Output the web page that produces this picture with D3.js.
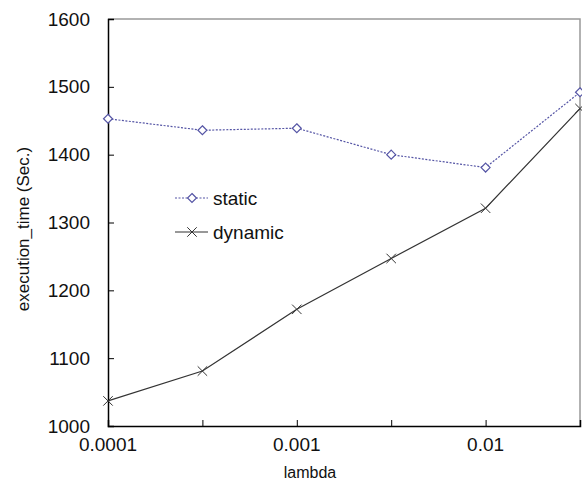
<!DOCTYPE html>
<html>
<head>
<meta charset="utf-8">
<script src="https://cdn.jsdelivr.net/npm/d3@7"></script>
<style>
  body { margin: 0; background: #fff; }
  text { font-family: "Liberation Sans", Arial, sans-serif; fill: #111; }
</style>
</head>
<body>
<div id="chart"></div>
<script>
// lambda categories, evenly spaced on the axis; only every other one is labelled
let lambdas = ['0.0001', '0.0003', '0.001', '0.003', '0.01', '0.03'];
let shownTicks = ['0.0001', '0.001', '0.01'];

// execution time in seconds
let staticTime = [1453, 1436, 1439, 1400, 1381, 1492];
let dynamicTime = [1037, 1081, 1172, 1247, 1321, 1468];

let yTicks = [1000, 1100, 1200, 1300, 1400, 1500, 1600];

let width = 582, height = 483;
let margin = {top: 19, right: 2, bottom: 57, left: 108};

let svg = d3.select('#chart')
            .append('svg')
            .attr('width', width)
            .attr('height', height);

let x = d3.scalePoint()
          .domain(lambdas)
          .range([margin.left, width - margin.right]);

let y = d3.scaleLinear()
          .domain([1000, 1600])
          .range([height - margin.bottom, margin.top]);

// frame: grey top and right edges
svg.append('path')
   .attr('d', 'M' + margin.left + ',' + y(1600) + 'H' + x('0.03') + 'V' + y(1000))
   .attr('fill', 'none')
   .attr('stroke', '#999')
   .attr('stroke-width', 1.5);

// y axis, ticks point into the plot
let yAxis = svg.append('g')
               .attr('transform', 'translate(' + margin.left + ',0)')
               .call(d3.axisRight(y).tickValues(yTicks).tickSize(6).tickFormat(''));
yAxis.select('.domain').attr('stroke', '#000').attr('stroke-width', 1.5);
yAxis.selectAll('.tick line').attr('stroke', '#000');

svg.append('g').selectAll('text')
   .data(yTicks)
   .join('text')
   .attr('x', margin.left - 18)
   .attr('y', d => y(d))
   .attr('dy', '0.35em')
   .attr('text-anchor', 'end')
   .style('font-size', '19px')
   .text(d => d);

// x axis, ticks point up
let xAxis = svg.append('g')
               .attr('transform', 'translate(0,' + y(1000) + ')')
               .call(d3.axisTop(x).tickSize(6).tickFormat(''));
xAxis.select('.domain').attr('stroke', '#000').attr('stroke-width', 1.5);
xAxis.selectAll('.tick line').attr('stroke', '#000');

svg.append('g').selectAll('text')
   .data(shownTicks)
   .join('text')
   .attr('x', d => x(d))
   .attr('y', y(1000) + 25)
   .attr('text-anchor', 'middle')
   .style('font-size', '19px')
   .text(d => d);

// axis titles
svg.append('text')
   .attr('x', 310)
   .attr('y', 478)
   .attr('text-anchor', 'middle')
   .style('font-size', '16px')
   .text('lambda');

svg.append('text')
   .attr('transform', 'translate(29,229) rotate(-90)')
   .attr('text-anchor', 'middle')
   .style('font-size', '17px')
   .text('execution_time (Sec.)');

let line = d3.line()
             .x((d, i) => x(lambdas[i]))
             .y(d => y(d));

let staticColor = '#5555a5', dynamicColor = '#333';

// square-ish diamond like the original marker
let squareDiamond = {
  draw(ctx, size) {
    let r = Math.sqrt(size) / 2;
    ctx.moveTo(0, -r);
    ctx.lineTo(r, 0);
    ctx.lineTo(0, r);
    ctx.lineTo(-r, 0);
    ctx.closePath();
  }
};

// static series, dotted blue with open diamonds
svg.append('path')
   .attr('d', line(staticTime))
   .attr('fill', 'none')
   .attr('stroke', staticColor)
   .attr('stroke-width', 1.2)
   .attr('stroke-dasharray', '2,1.5');

let diamond = d3.symbol().type(squareDiamond).size(80);
svg.append('g').selectAll('path')
   .data(staticTime)
   .join('path')
   .attr('transform', (d, i) => 'translate(' + x(lambdas[i]) + ',' + y(d) + ')')
   .attr('d', diamond)
   .attr('fill', '#fff')
   .attr('stroke', staticColor)
   .attr('stroke-width', 1.2);

// dynamic series, solid dark with x markers
svg.append('path')
   .attr('d', line(dynamicTime))
   .attr('fill', 'none')
   .attr('stroke', dynamicColor)
   .attr('stroke-width', 1.2);

let cross = d3.symbol().type(d3.symbolX).size(60);
svg.append('g').selectAll('path')
   .data(dynamicTime)
   .join('path')
   .attr('transform', (d, i) => 'translate(' + x(lambdas[i]) + ',' + y(d) + ')')
   .attr('d', cross)
   .attr('fill', 'none')
   .attr('stroke', dynamicColor)
   .attr('stroke-width', 1);

// legend
let legend = svg.append('g').attr('transform', 'translate(175,198)');

legend.append('line')
      .attr('x1', 0).attr('x2', 33)
      .attr('stroke', staticColor).attr('stroke-width', 1.2)
      .attr('stroke-dasharray', '2,1.5');
legend.append('path')
      .attr('transform', 'translate(17,0)')
      .attr('d', diamond)
      .attr('fill', '#fff').attr('stroke', staticColor).attr('stroke-width', 1.2);
legend.append('text')
      .attr('x', 38).attr('dy', '0.35em')
      .style('font-size', '19px')
      .text('static');

legend.append('line')
      .attr('x1', 0).attr('x2', 33)
      .attr('y1', 34).attr('y2', 34)
      .attr('stroke', dynamicColor).attr('stroke-width', 1.2);
legend.append('path')
      .attr('transform', 'translate(17,34)')
      .attr('d', cross)
      .attr('fill', 'none').attr('stroke', dynamicColor);
legend.append('text')
      .attr('x', 38).attr('y', 34).attr('dy', '0.35em')
      .style('font-size', '19px')
      .text('dynamic');
</script>
</body>
</html>
